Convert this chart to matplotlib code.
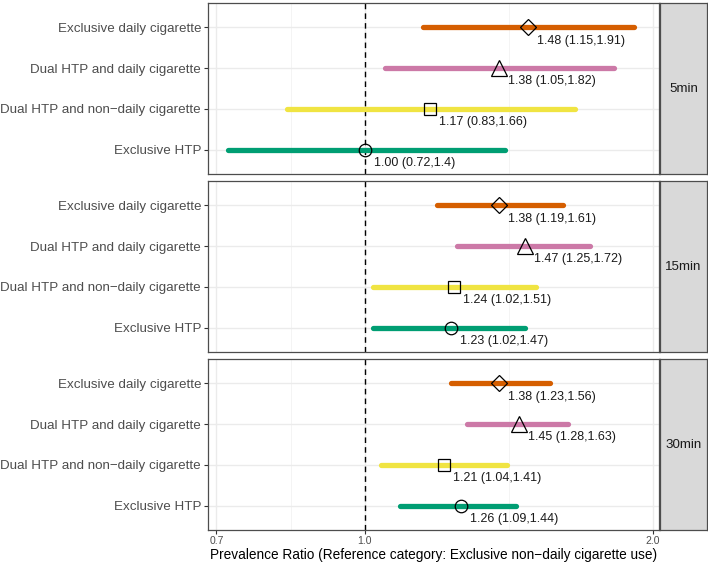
import numpy as np
import matplotlib
matplotlib.use('Agg')
import matplotlib.pyplot as plt
from matplotlib.ticker import FixedLocator, NullFormatter

plt.rcParams['font.family'] = ['Liberation Sans', 'DejaVu Sans']

categories = ['Exclusive daily cigarette', 'Dual HTP and daily cigarette',
              'Dual HTP and non\u2212daily cigarette', 'Exclusive HTP']
panels = ['5min', '15min', '30min']

# prevalence ratio, lower and upper CI, one row per panel, order as categories
pr = [[1.48, 1.38, 1.17, 1.00],
      [1.38, 1.47, 1.24, 1.23],
      [1.38, 1.45, 1.21, 1.26]]
lower = [[1.15, 1.05, 0.83, 0.72],
         [1.19, 1.25, 1.02, 1.02],
         [1.23, 1.28, 1.04, 1.09]]
upper = [[1.91, 1.82, 1.66, 1.4],
         [1.61, 1.72, 1.51, 1.47],
         [1.56, 1.63, 1.41, 1.44]]
labels = [['1.48 (1.15,1.91)', '1.38 (1.05,1.82)', '1.17 (0.83,1.66)', '1.00 (0.72,1.4)'],
          ['1.38 (1.19,1.61)', '1.47 (1.25,1.72)', '1.24 (1.02,1.51)', '1.23 (1.02,1.47)'],
          ['1.38 (1.23,1.56)', '1.45 (1.28,1.63)', '1.21 (1.04,1.41)', '1.26 (1.09,1.44)']]

colors = ['#D55E00', '#CC79A7', '#F0E442', '#009E73']
markers = ['D', '^', 's', 'o']
msizes = [8.5, 11, 9, 9]

x_ticks = [0.7, 1.0, 2.0]
x_minor = [np.sqrt(0.7), np.sqrt(2.0)]
xlim = (0.686, 2.03)

W, H = 708, 563
fig = plt.figure(figsize=(W / 100, H / 100), dpi=100)

left, right = 208, 659
strip_l, strip_r = 660, 707
tops = [3, 181, 359]
ph = 171
border = '#4D4D4D'

for p in range(3):
    y0 = 1 - (tops[p] + ph) / H
    ax = fig.add_axes([left / W, y0, (right - left) / W, ph / H])
    ax.set_xscale('log')
    ax.set_xlim(*xlim)
    ax.set_ylim(4.6, 0.4)
    ypos = np.arange(1, 5)

    ax.xaxis.set_major_locator(FixedLocator(x_ticks))
    ax.xaxis.set_minor_locator(FixedLocator(x_minor))
    ax.xaxis.set_minor_formatter(NullFormatter())
    ax.grid(True, which='major', color='#EBEBEB', lw=1.0, zorder=0)
    ax.grid(True, which='minor', axis='x', color='#F2F2F2', lw=0.6, zorder=0)
    ax.set_axisbelow(True)

    ax.axvline(1.0, color='black', ls=(0, (4, 3)), lw=1.0, zorder=1)

    for i in range(4):
        ax.plot([lower[p][i], upper[p][i]], [ypos[i], ypos[i]], color=colors[i],
                lw=3.8, solid_capstyle='round', zorder=2)
        ax.plot(pr[p][i], ypos[i], marker=markers[i], ms=msizes[i], mfc='none',
                mec='black', mew=0.9, zorder=3)
        ax.annotate(labels[p][i], (pr[p][i], ypos[i]), xytext=(6.5, -9.5),
                    textcoords='offset points', ha='left', va='center',
                    fontsize=9, color='#1A1A1A')

    ax.set_yticks(ypos)
    ax.set_yticklabels(categories, fontsize=9.6, color='#4D4D4D')
    ax.tick_params(axis='y', length=3, color='#333333', width=0.8, pad=2)
    if p < 2:
        ax.tick_params(axis='x', which='both', length=0, labelbottom=False)
    else:
        ax.set_xticklabels(['0.7', '1.0', '2.0'])
        ax.tick_params(axis='x', which='major', length=3, color='#333333',
                       width=0.8, labelsize=7.5, labelcolor='#4D4D4D', pad=1.5)
        ax.tick_params(axis='x', which='minor', length=0)
        ax.set_xlabel('Prevalence Ratio (Reference category: Exclusive non\u2212daily cigarette use)',
                      fontsize=9.8, labelpad=1.5)
    for s in ax.spines.values():
        s.set_color(border)
        s.set_linewidth(0.9)

    # facet strip
    sax = fig.add_axes([strip_l / W, y0, (strip_r - strip_l) / W, ph / H])
    sax.set_facecolor('#D9D9D9')
    sax.set_xticks([])
    sax.set_yticks([])
    for s in sax.spines.values():
        s.set_color(border)
        s.set_linewidth(0.9)
    sax.text(0.5, 0.5, panels[p], ha='center', va='center', fontsize=9.6,
             color='#1A1A1A', transform=sax.transAxes)

fig.savefig('out.png', dpi=100)
